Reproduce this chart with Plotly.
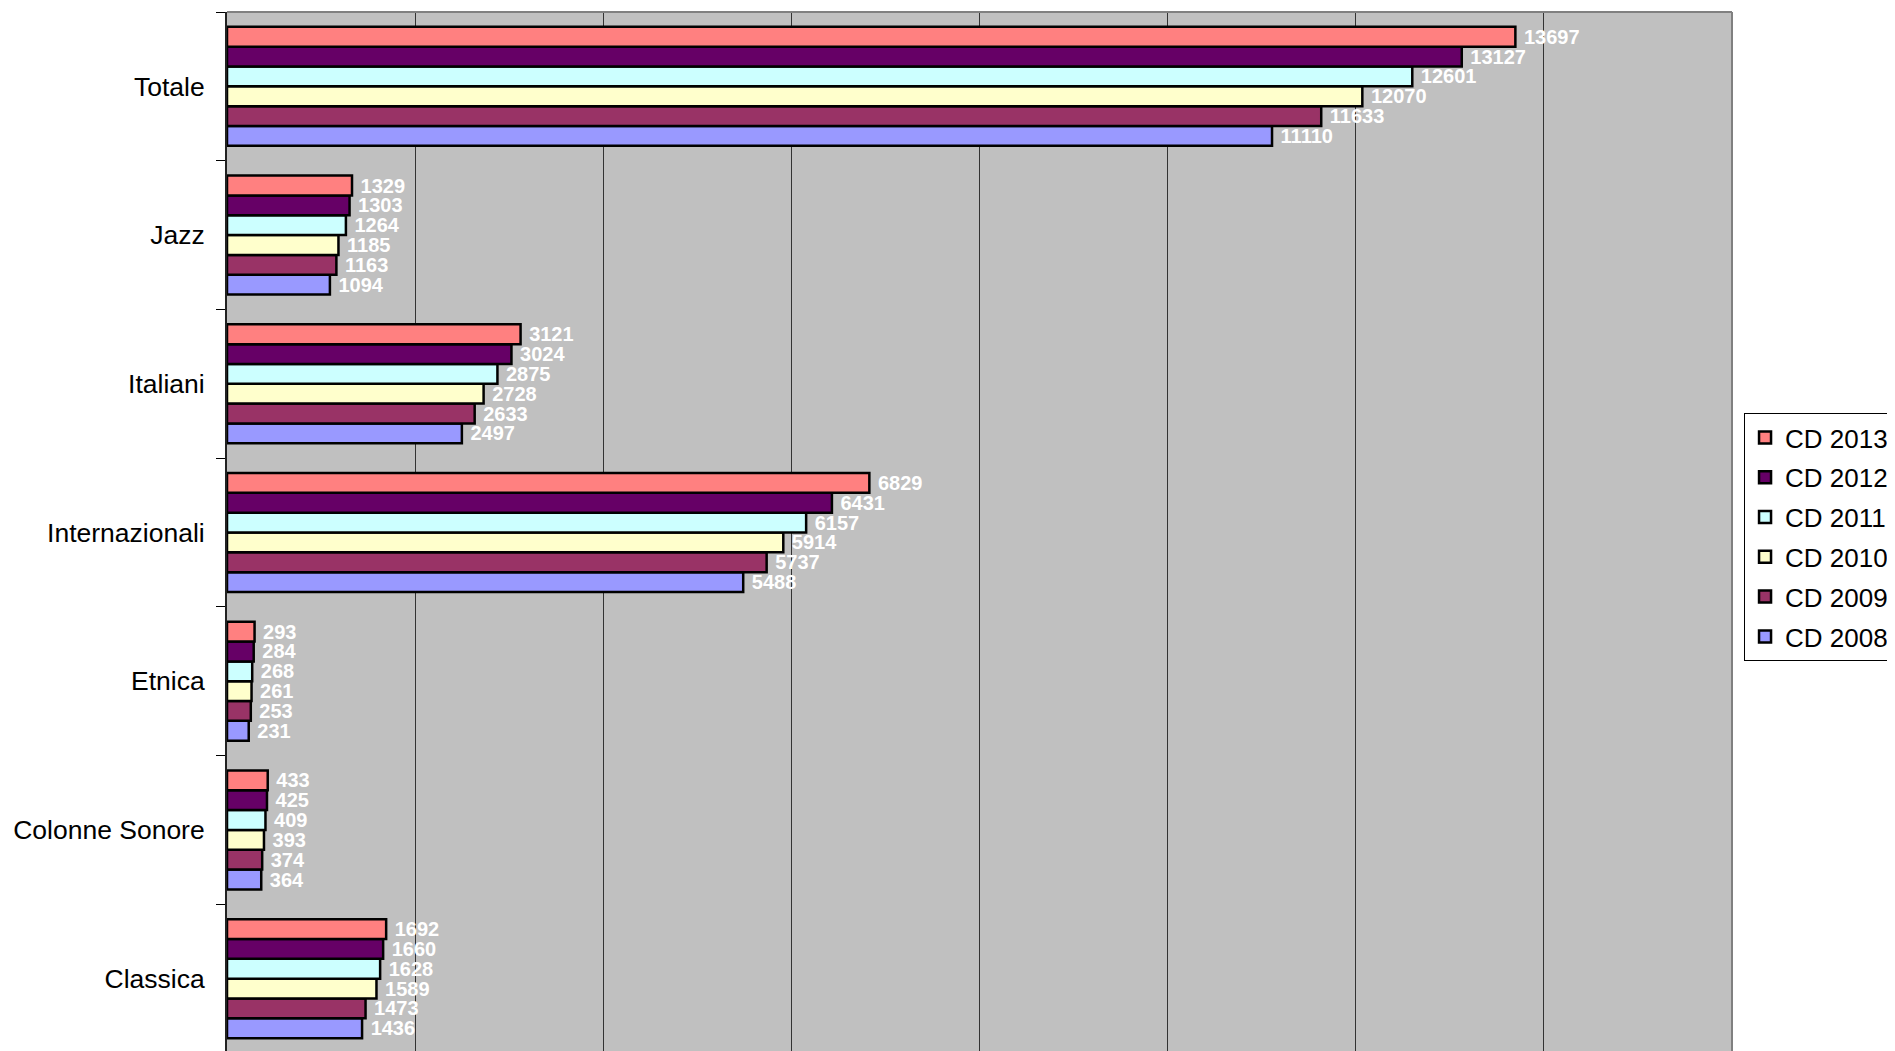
import plotly.graph_objects as go

# categories, bottom to top as plotly draws them
categories = ["Classica", "Colonne Sonore", "Etnica", "Internazionali", "Italiani", "Jazz", "Totale"]

cd_2013 = [1692, 433, 293, 6829, 3121, 1329, 13697]
cd_2012 = [1660, 425, 284, 6431, 3024, 1303, 13127]
cd_2011 = [1628, 409, 268, 6157, 2875, 1264, 12601]
cd_2010 = [1589, 393, 261, 5914, 2728, 1185, 12070]
cd_2009 = [1473, 374, 253, 5737, 2633, 1163, 11633]
cd_2008 = [1436, 364, 231, 5488, 2497, 1094, 11110]

series = [
    ("CD 2008", cd_2008, "#9999FF"),
    ("CD 2009", cd_2009, "#993366"),
    ("CD 2010", cd_2010, "#FFFFCC"),
    ("CD 2011", cd_2011, "#CCFFFF"),
    ("CD 2012", cd_2012, "#660066"),
    ("CD 2013", cd_2013, "#FF8080"),
]

fig = go.Figure()
for i, (name, vals, color) in enumerate(series):
    fig.add_trace(go.Bar(
        y=categories,
        x=vals,
        name=name,
        orientation="h",
        legendgroup=name,
        legendrank=1000 - i,  # newest year on top of the legend
        marker=dict(color=color, line=dict(color="black", width=2.5)),
        text=[" " + str(v) for v in vals],
        textposition="outside",
        constraintext="none",
        cliponaxis=False,
        textfont=dict(color="white", size=20, family="Liberation Sans, Arial", weight="bold"),
    ))

fig.update_layout(
    width=1895,
    height=1051,
    barmode="group",
    bargap=0.2,
    bargroupgap=0,
    paper_bgcolor="white",
    plot_bgcolor="#C0C0C0",
    font=dict(family="Liberation Sans, Arial", color="black", size=26),
    margin=dict(l=219, r=171, t=4, b=6, autoexpand=False),
    legend=dict(
        x=1.008, xanchor="left",
        y=0.6148, yanchor="top",
        traceorder="grouped",
        tracegroupgap=3,
        bgcolor="white",
        bordercolor="black",
        borderwidth=1,
        font=dict(size=26, family="Liberation Sans, Arial"),
    ),
    xaxis=dict(
        range=[0, 16000],
        dtick=2000,
        showgrid=True,
        gridcolor="#333333",
        gridwidth=1,
        showticklabels=False,
        zeroline=False,
        showline=False,
    ),
    yaxis=dict(
        range=[-0.5, 6.5],
        showline=True,
        linecolor="#222222",
        linewidth=2,
        ticks="outside",
        tickson="boundaries",
        ticklen=9,
        tickcolor="black",
        ticklabelstandoff=15,
        showgrid=False,
        tickfont=dict(size=26.5, color="black"),
    ),
)

# plot area frame (top and right edges in grey)
fig.add_shape(type="line", xref="paper", yref="paper", x0=0, x1=1, y0=1, y1=1,
              line=dict(color="#808080", width=2))
fig.add_shape(type="line", xref="paper", yref="paper", x0=1, x1=1, y0=0, y1=1,
              line=dict(color="#808080", width=2))

fig.write_html("out.html")
